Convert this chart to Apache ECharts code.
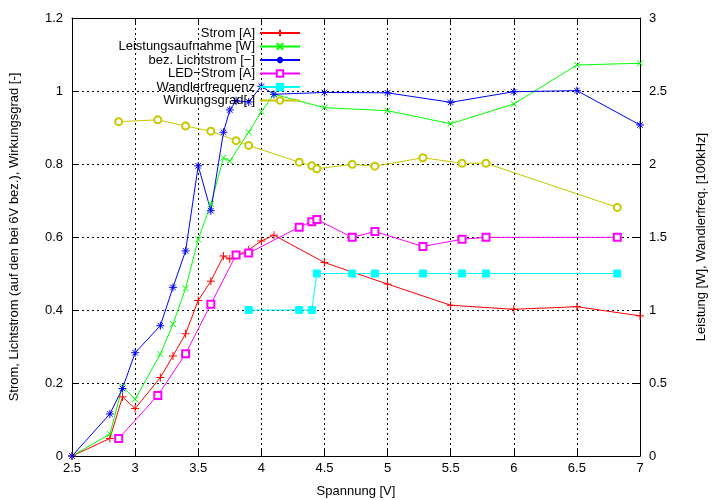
<!DOCTYPE html>
<html>
<head>
<meta charset="utf-8">
<script src="https://cdn.jsdelivr.net/npm/echarts@6/dist/echarts.min.js"></script>
<style>html,body{margin:0;padding:0;background:#fff}#c{width:713px;height:500px}</style>
</head>
<body>
<div id="c"></div>
<script>
// Voltage values (V)
const voltageMain = [2.5,2.8,2.9,3.0,3.2,3.3,3.4,3.5,3.6,3.7,3.75,3.9,4.0,4.1,4.5,5.0,5.5,6.0,6.5,7.0];
const strom = [0,0.048,0.162,0.13,0.215,0.274,0.335,0.426,0.479,0.548,0.54,0.565,0.589,0.605,0.53,0.471,0.413,0.402,0.409,0.384];
const leistung = [0,0.15,0.475,0.388,0.698,0.903,1.149,1.483,1.726,2.043,2.02,2.218,2.358,2.477,2.386,2.365,2.276,2.411,2.678,2.69];
const voltageLicht = [2.5,2.8,2.9,3.0,3.2,3.3,3.4,3.5,3.6,3.7,3.75,3.8,3.9,4.0,4.1,4.5,5.0,5.5,6.0,6.5,7.0];
const lichtstrom = [0,0.115,0.185,0.283,0.357,0.462,0.562,0.795,0.672,0.887,0.948,0.973,0.97,1.013,0.991,0.996,0.995,0.969,0.998,1.001,0.907];
const voltageLed = [2.87,3.18,3.4,3.6,3.8,3.9,4.3,4.4,4.44,4.72,4.9,5.28,5.59,5.78,6.82];
const ledStrom = [0.048,0.166,0.28,0.416,0.551,0.556,0.627,0.642,0.648,0.599,0.615,0.574,0.594,0.599,0.599];
const wirkungsgrad = [0.916,0.921,0.904,0.89,0.864,0.851,0.805,0.795,0.787,0.799,0.794,0.817,0.802,0.802,0.681];
const voltageFreq = [3.9,4.3,4.4,4.44,4.72,4.9,5.28,5.59,5.78,6.82];
const wandlerfrequenz = [1,1,1,1.25,1.25,1.25,1.25,1.25,1.25,1.25];

const seriesNames = ['Strom [A]','Leistungsaufnahme [W]','bez. Lichtstrom [\u2212]','LED\u2212Strom [A]','Wandlerfrequenz','Wirkungsgrad[-]'];

const pair = (xs, ys) => xs.map((x, i) => [x, ys[i]]);
const FONT = 'Liberation Sans';

const PLUS = 'path://M0,5L10,5M5,0L5,10';
const CROSS = 'path://M0,0L10,10M0,10L10,0';
const STAR = 'path://M0,5L10,5M5,0L5,10M1.5,1.5L8.5,8.5M1.5,8.5L8.5,1.5';

function mk(name, data, color, symbol, size, yIdx, fill) {
  return {
    name, type: 'line', data, xAxisIndex: 0, yAxisIndex: yIdx,
    symbol, symbolSize: size, showSymbol: true, animation: false,
    lineStyle: { color, width: 1 },
    itemStyle: { color: fill || color, borderColor: color, borderWidth: 1 },
    emphasis: { disabled: true }
  };
}

const chart = echarts.init(document.getElementById('c'), null, { renderer: 'canvas' });
const axisCommon = {
  axisLine: { show: true, onZero: false, lineStyle: { color: '#000', width: 1 } },
  axisTick: { show: true, inside: true, length: 6, lineStyle: { color: '#000' } },
  axisLabel: { color: '#000', fontFamily: FONT, fontSize: 13 },
  nameTextStyle: { color: '#000', fontFamily: FONT, fontSize: 13 }
};
chart.setOption({
  backgroundColor: '#fff',
  animation: false,
  grid: { left: 72, right: 73, top: 18, bottom: 44, containLabel: false, outerBoundsMode: 'none' },
  legend: {
    orient: 'vertical', align: 'right', right: 412, top: 26.5, padding: 0,
    itemWidth: 40, itemHeight: 8, itemGap: 0.5,
    textStyle: { color: '#000', fontFamily: FONT, fontSize: 13, lineHeight: 12 },
    data: seriesNames, selectedMode: false
  },
  xAxis: [
    Object.assign({}, axisCommon, {
      type: 'value', min: 2.5, max: 7, interval: 0.5, position: 'bottom',
      name: 'Spannung [V]', nameLocation: 'middle', nameGap: 29,
      axisLabel: Object.assign({}, axisCommon.axisLabel, { margin: 6 }),
      splitLine: { show: true, lineStyle: { color: '#000', type: [2, 3], width: 1 } }
    }),
    Object.assign({}, axisCommon, {
      type: 'value', min: 2.5, max: 7, interval: 0.5, position: 'top',
      axisLabel: { show: false }, splitLine: { show: false }
    })
  ],
  yAxis: [
    Object.assign({}, axisCommon, {
      type: 'value', min: 0, max: 1.2, interval: 0.2, position: 'left',
      name: 'Strom, Lichtstrom (auf den bei 6V bez.), Wirkungsgrad [-]',
      nameLocation: 'middle', nameGap: 51, nameRotate: 90,
      axisLabel: Object.assign({}, axisCommon.axisLabel, { margin: 9 }),
      splitLine: { show: true, lineStyle: { color: '#000', type: [2, 3], width: 1 } }
    }),
    Object.assign({}, axisCommon, {
      type: 'value', min: 0, max: 3, interval: 0.5, position: 'right',
      name: 'Leistung [W], Wandlerfreq. [100kHz]',
      nameLocation: 'middle', nameGap: 55, nameRotate: 90,
      axisLabel: Object.assign({}, axisCommon.axisLabel, { margin: 9 }),
      splitLine: { show: false }
    })
  ],
  series: [
    mk(seriesNames[0], pair(voltageMain, strom), '#ff0000', PLUS, 8, 0),
    mk(seriesNames[1], pair(voltageMain, leistung), '#00ff00', CROSS, 6, 1),
    mk(seriesNames[2], pair(voltageLicht, lichtstrom), '#0000ff', STAR, 8, 0),
    mk(seriesNames[3], pair(voltageLed, ledStrom), '#ff00ff', 'emptyRect', 7, 0),
    mk(seriesNames[4], pair(voltageFreq, wandlerfrequenz), '#00ffff', 'rect', 7, 1),
    mk(seriesNames[5], pair(voltageLed, wirkungsgrad), '#c8c800', 'emptyCircle', 7, 0)
  ]
});
</script>
</body>
</html>
